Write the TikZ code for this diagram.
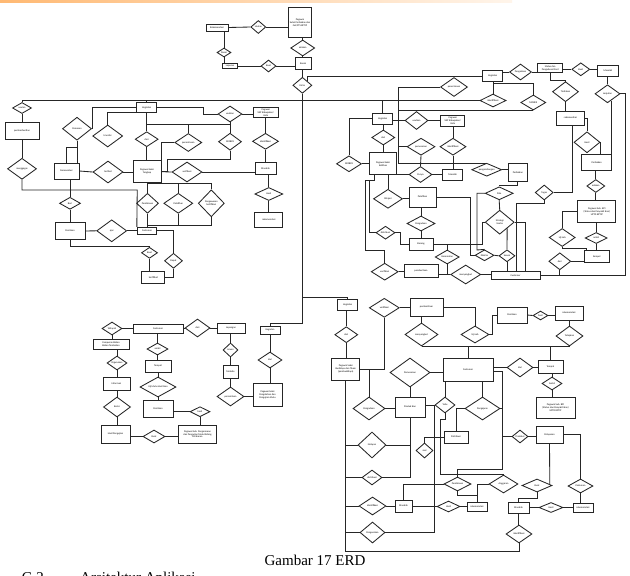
\documentclass[tikz,border=0pt]{standalone}
\usepackage{fontspec}
\newfontfamily\erdcarl{Carlito}
\newfontfamily\erdcap{Liberation Serif}
\usetikzlibrary{shapes.geometric,calc}
\newcommand\erdlbl{\erdcarl\fontsize{2.5}{2.9}\selectfont}
\tikzset{
  ent/.style={draw=black!85, fill=white, line width=0.85pt, rectangle, inner sep=0.3pt, align=center, font=\erdlbl},
  rel/.style={draw=black!85, fill=white, line width=0.85pt, diamond, aspect=2, inner sep=0pt, align=center, font=\erdlbl},
  conn/.style={draw=black!85, line width=0.85pt},
  captxt/.style={inner sep=0pt, font=\erdcap\fontsize{15}{18}\selectfont}
}
\newcommand\myent[5]{\node[ent,minimum width=#4pt,minimum height=#5pt] (#1) at (#2) {#3};}
\newcommand\myrel[5]{\node[rel,minimum width=#4pt,minimum height=#5pt] (#1) at (#2) {#3};}
\begin{document}
\begin{tikzpicture}[x=1pt,y=-1pt]
\useasboundingbox (0,0) rectangle (630,576);
\fill[white] (0,0) rectangle (630,576);
\shade[left color=orange!55, right color=orange!8] (0,0) rectangle (512,2.5);
% helper coordinates
\coordinate (h83) at (0,83);
\coordinate (h112) at (0,112);
\coordinate (h124) at (0,124);
\coordinate (h147) at (0,147);
\coordinate (h163) at (0,163.3);
\coordinate (h183) at (0,183);
\coordinate (h225) at (0,225);
\coordinate (h297) at (0,297);
\coordinate (h323) at (0,323);
\coordinate (h469) at (0,469);
\coordinate (h551) at (0,551);
\coordinate (v398) at (398,0);
\coordinate (v502) at (502,0);

% ---------------- nodes: top
\myent{pegTop}{300,22.3}{Pegawai\\Subsi Perbaikan dan\\Gel/PTS BPTIP}{23}{30}
\myent{rekomTop}{217,27.5}{Rekomendasi}{22}{7}
\myrel{usulanTop}{258.3,27}{Usulan}{15}{13}
\myrel{adakanTop}{302.7,48}{adakan}{24}{16}
\myrel{dasar}{224,52.5}{Dasar}{14}{9}
\myent{laporan}{230,66}{Laporan}{15}{5.5}
\myrel{buatTop}{268.5,66}{Buat}{15}{12}
\myent{rusak}{303,63.2}{Rusak}{16}{12}
\myrel{kirim}{302.4,85.3}{Kirim}{19}{16}

% ---------------- nodes: upper left
\myrel{usulL}{22,108}{usulan}{19}{11}
\myent{pemberhentian}{22,130.5}{pemberhentian}{34}{17}
\myrel{menggagas}{22,168.8}{menggagas}{29}{21}
\myent{kegA}{146.7,107.5}{Kegiatan}{20}{10.5}
\myrel{pemasok}{77,128.7}{Pemesan}{29}{23}
\myrel{transfer}{107.7,136}{transfer}{30}{22}
\myrel{diri}{146.7,139.2}{dari}{23}{15}
\myrel{penerimaan}{188.3,142.5}{penerimaan}{27}{18}
\myrel{usul1}{230,114}{usulkan}{24}{16}
\myent{skp1}{265.8,112.8}{Pegawai\\SKP Kabupaten/\\Kota}{25}{10}
\myrel{mobex1}{230,141.7}{MOBEX}{23}{17}
\myrel{ident1}{265.5,141.3}{identifikasi}{26}{16}
\myent{mas1}{265.5,168.5}{Masalah}{21}{12}
\myrel{hasil1}{268.8,194}{Hasil}{28}{13}
\myent{rekom1}{268.8,220}{rekomendasi}{28}{15}
\myent{narasumber}{66.5,171}{Narasumber}{25}{16}
\myrel{terlibat}{108,172}{terlibat}{30}{22}
\myent{tangkap}{147,171.7}{Pegawai Seksi\\Tangkap}{28}{22}
\myrel{verif1}{187,172}{verifikasi}{30}{20}
\myrel{beri}{70,203.3}{Beri}{21}{12}
\myent{penilaian1}{70,231}{Penilaian}{30}{17}
\myrel{ajar}{111.7,230.8}{ajar}{30}{22}
\myrel{pembinaan1}{147.5,203.3}{Pembinaan}{22}{20}
\myrel{pelatihan1}{178.3,203.3}{Pelatihan}{29}{20}
\myrel{pengawasan}{211.3,203.3}{Pengawasan\\Sertifikasi}{26}{27}
\myent{cust1}{147,230.7}{Customer}{19.5}{7}
\myrel{buatS}{149.5,252.8}{Buat}{16}{11}
\myent{sertifikat}{153.3,277.8}{Sertifikat}{23}{12}
\myrel{dapat}{173.5,260.8}{Dapat}{18}{15}

% ---------------- nodes: upper right
\myent{kegB}{382.7,118.7}{Kegiatan}{20}{11}
\myrel{usul2}{416.5,120.5}{usulkan}{23}{18}
\myent{skp2}{452.8,120.5}{Pegawai\\SKP Kabupaten/\\Kota}{24}{11}
\myrel{dariB}{383.3,137.5}{dari}{23}{15}
\myrel{mobex2}{349,163.8}{MOBEX}{25}{16}
\myent{kel}{383,163.7}{Pegawai Seksi\\Kelitbas}{27}{22}
\myrel{pemesanan}{421,146.7}{pemesanan}{28}{17}
\myrel{ident2}{453,146.7}{identifikasi}{26}{17}
\myrel{punya}{420.5,174.5}{Punya}{23}{16}
\myent{mas2}{452.7,174.7}{Masalah}{20}{11}
\myrel{pengemb}{486.7,169.7}{pengembangan}{30}{13}
\myent{perb2}{517.8,172.8}{Perbaikan}{19}{18}
\myrel{pelajari}{388,198.8}{Pelajari}{29}{19}
\myent{pelatihanB}{422.5,197}{Pelatihan}{27}{20}
\myrel{pengadaanB}{421,223.5}{Pengadaan}{28}{15}
\myent{barang}{421,244}{Barang}{24}{12}
\myrel{distribB}{385.5,232.7}{distribusi}{19}{13}
\myrel{verifB}{384.7,271.7}{verifikasi}{27}{17}
\myent{pemberitaanB}{421,270.5}{pemberitaan}{34}{13}
\myrel{kecamatan}{447.2,257}{Kecamatan}{24}{14}
\myrel{menyangkutB}{465.7,274.5}{menyangkut}{30}{19}
\myrel{pola}{499.2,193.3}{Pola}{28}{13}
\myrel{strategi}{499.7,222.2}{Strategi\\Usaha}{29}{24}
\myrel{dikirim}{484.5,255.3}{Dikirim}{19}{11}
\myrel{sesuai}{507,255.8}{Sesuai}{16}{12}
\myent{cust2}{515.5,275.2}{Customer}{49}{8}
\myrel{tugas}{544.2,192.5}{Tugas}{18}{15}

% ---------------- nodes: top right
\myent{kegT}{492.7,76.2}{Kegiatan}{20}{11}
\myrel{pengaduan}{520.5,72}{Pengaduan}{22}{16}
\myent{status}{550.2,68.3}{Status dan\\Pengaduan Riset}{25}{9}
\myrel{buat3}{580.8,69.3}{Buat}{18}{13}
\myent{mas3}{608,70.5}{Masalah}{21}{11}
\myrel{lanjut}{607.5,93.8}{Lanjutan}{25}{18}
\myrel{tindakan}{565.5,91.7}{Tindakan}{26}{20}
\myent{rekom3}{570.5,118}{rekomendasi}{28}{14}
\myrel{hasil3}{587,142.3}{Hasil}{26}{21}
\myrel{penerimaan2}{454,87}{penerimaan}{27}{19}
\myrel{ident3}{493,100.5}{identifikasi}{26}{13}
\myrel{mobex3}{533.3,102.5}{MOBEX}{25}{15}
\myent{perb3}{596.7,162.8}{Perbaikan}{30}{16}
\myrel{adakan3}{595.8,186}{adakan}{18}{13}
\myent{bpi1}{596.8,211.8}{Pegawai Sub. BPI\\(Status dan Penyakit Ikan)\\UPTD BPTIP}{38}{22}
\myrel{ujilab1}{562.2,237.5}{Uji Lab}{26}{18}
\myrel{ambil3}{596.2,238}{ambil}{22}{11}
\myent{sampel}{596.8,256.8}{Sampel}{25}{12}
\myrel{dari3}{559.8,261.3}{dari}{22}{17}

% ---------------- nodes: lower left
\myent{kegD}{270,330}{Kegiatan}{20}{8}
\myrel{dariD}{270,360}{dari}{24}{16}
\myent{pengolahan}{267.5,394.5}{Pegawai Seksi\\Pengolahan dan\\Pengujian Mutu}{29}{23}
\myent{lapangan}{231,328}{Lapangan}{28}{10}
\myrel{acuan}{230.5,350}{Acuan}{15}{14}
\myent{metode}{230.5,371.5}{Metode}{15}{13}
\myrel{permintaan}{230.5,396.5}{permintaan}{27}{19}
\myent{cust4}{158,328.5}{Customer}{50}{9}
\myrel{dari4}{197.5,328}{dari}{25}{18}
\myrel{wilayah}{112,328.5}{Wilayah}{20}{13}
\myent{cbb}{111,344}{Campuran Bahan\\Bahan Tambahan}{36}{10}
\myrel{digunakan}{117,363}{Digunakan}{20}{14}
\myent{informasi}{116.5,383.5}{Informasi}{27}{13}
\myrel{berisi}{117,407}{Berisi}{27}{20}
\myent{hasilpeng}{115.5,434.2}{Hasil Pengujian}{29}{18}
\myrel{buatH}{154,436.5}{Buat}{22}{13}
\myent{pengemasan}{197.5,434.2}{Pegawai Sub. Pengemasan\\dan Pengujian Mutu Bidang\\Perikanan}{38.4}{18.3}
\myrel{ambil4}{157.5,349}{ambil}{21}{12}
\myent{tempat4}{158,366}{Tempat}{26}{12}
\myrel{ujimutu}{158,387}{Uji Mutu Hasil Ikan}{36}{20}
\myent{penilaian4}{158,408.5}{Penilaian}{30}{17}
\myrel{hasil4}{200,411.7}{hasil}{20}{10}

% ---------------- nodes: lower right
\myent{kegC}{347.7,305}{Kegiatan}{20}{11}
\myrel{dariC}{346.3,334.7}{dari}{23}{16}
\myent{budidaya}{345.8,369.2}{Pegawai Seksi\\Budidaya dan Tikam\\(pembudidaya)}{28}{22}
\myrel{verifC}{384.3,307.8}{verifikasi}{30}{19}
\myent{pemberitaanC}{426.5,307}{pemberitaan}{33}{18}
\myrel{menyC}{421.5,334.5}{menyangkut}{33}{23}
\myrel{ujilabC}{475,334.5}{Uji Lab}{28}{17}
\myent{penC}{512,315}{Penilaian}{30}{16}
\myrel{hasilC}{540.5,315.5}{hasil}{15}{9}
\myent{rekomC}{569,313}{rekomendasi}{28}{14}
\myrel{tetapkan}{569.5,336}{Tetapkan}{27}{20}
\myent{cust3}{468,369.5}{Customer}{50}{23}
\myrel{dariC2}{520,367.5}{dari}{26}{19}
\myent{tempatC}{550.5,366.5}{Tempat}{25}{13}
\myrel{ambilC}{552,383.5}{Ambil}{20}{13}
\myent{bpi2}{555.5,407.5}{Pegawai Sub. BPI\\(Status dan Penyakit Ikan)\\UPTD BPTIP}{39}{21}
\myrel{pemesananC}{410,372.5}{Pemesanan}{40}{29}
\myent{produk}{410,407}{Produk Ikan}{30}{20}
\myrel{pengadaanC}{369,408.5}{Pengadaan}{32}{23}
\myrel{yaitu}{445,405}{Yaitu}{20}{16}
\myrel{pengajuan}{482.5,408.5}{Pengajuan}{35}{23}
\myent{distribusiBox}{456,437}{Distribusi}{24}{12}
\myrel{jual}{424.5,450.5}{Jual}{17}{15}
\myent{pelayanan}{549.5,434.5}{Pelayanan}{27}{17}
\myrel{produksi}{520,436.5}{Produksi}{16}{13}
\myrel{pedoman}{580.5,486}{Pedoman}{25}{14}
\myent{rekomE}{583,507.5}{rekomendasi}{20}{9}
\myrel{buatE}{537,485.5}{Buat}{30}{13}
\myent{masE}{518.5,507.5}{Masalah}{21}{11}
\myrel{hasilE}{551,507.5}{Hasil}{24}{10}
\myrel{identE}{519,534}{identifikasi}{26}{18}
\myrel{pembE}{457.5,484}{Pembinaan}{27}{14}
\myrel{anggaran}{503.5,484}{Anggaran}{29}{18}
\myent{rekomD}{477,506.5}{rekomendasi}{20}{9}
\myrel{hasilD}{448.5,506.5}{Hasil}{23}{11}
\myent{masD}{403.5,506}{Masalah}{17}{12}
\myrel{nelayan}{372,445}{Nelayan}{28}{26}
\myrel{distribD}{372,477.5}{distribusi}{20}{15}
\myrel{identD}{372.5,506}{identifikasi}{27}{18}
\myrel{pengecekan}{372.5,532.5}{Pengecekan}{25}{21}

% ---------------- captions
\node[captxt] (caption) at (315,560) {Gambar 17 ERD};
\node[captxt, anchor=base west] (gtwo) at (21.7,582) {G.2};
\node[captxt, anchor=base west] (arsitektur) at (80,582) {Arsitektur Aplikasi};

% ================= connectors
% top
\draw[conn] (rekomTop.east) -- (usulanTop.west);
\draw[conn] (usulanTop.east) -- (usulanTop.east -| pegTop.west);
\draw[conn] (adakanTop.north |- pegTop.south) -- (adakanTop.north);
\draw[conn] (adakanTop.south) -- (adakanTop.south |- rusak.north);
\draw[conn] (kirim.north |- rusak.south) -- (kirim.north);
\draw[conn] (dasar.north |- rekomTop.south) -- (dasar.north);
\draw[conn] (dasar.south) -- (dasar.south |- laporan.north);
\draw[conn] (laporan.east) -- (buatTop.west);
\draw[conn] (buatTop.east) -- (buatTop.east -| rusak.west);
\draw[conn] (kirim.north east) |- (kegT.west);
\draw[conn] (kirim.south) -- (kirim.south |- h323) -| (kegD.north);
\draw[conn] (kirim.south |- h297) -| (kegC.north);
% long line
\draw[conn] (usulL.north) |- (ident3.west);
\draw[conn] (kegA.north) -- (kegA.north |- ident3.west);
\draw[conn] (kegB.north) -- (kegB.north |- ident3.west);
% upper left
\draw[conn] (kegA.west) -| (pemasok.east);
\draw[conn] (kegA.west |- h112) -| (transfer.north);
\draw[conn] (kegA.east) -- ++(46.3,0) |- (usul1.west);
\draw[conn] (kegA.south) -- (diri.north);
\draw[conn] (kegA.south |- h124) -- (usul1.south |- h124);
\draw[conn] (penerimaan.north |- h124) -- (penerimaan.north);
\draw[conn] (usul1.south) -- (mobex1.north);
\draw[conn] (usul1.east) -- (usul1.east -| skp1.west);
\draw[conn] (ident1.north |- skp1.south) -- (ident1.north);
\draw[conn] (ident1.south) -- (ident1.south |- mas1.north);
\draw[conn] (hasil1.north |- mas1.south) -- (hasil1.north);
\draw[conn] (hasil1.south) -- (hasil1.south |- rekom1.north);
\draw[conn] (mobex1.south) |- (167,159.5) |- (tangkap.east);
\draw[conn] (tangkap.east) -- (verif1.west);
\draw[conn] (verif1.east) -- (verif1.east -| mas1.west);
\draw[conn] (diri.south) -- (diri.south |- tangkap.north);
\draw[conn] (penerimaan.west) -| (tangkap.north east);
\draw[conn] (pemasok.south) -- (pemasok.south |- narasumber.north);
\draw[conn] (pemasok.south |- h147) -| (narasumber.north);
\draw[conn] (narasumber.east) -- (terlibat.west);
\draw[conn] (terlibat.east) -- (terlibat.east -| tangkap.west);
\draw[conn] (beri.north |- narasumber.south) -- (beri.north);
\draw[conn] (beri.south) -- (beri.south |- penilaian1.north);
\draw[conn] (penilaian1.east) -- (ajar.west);
\draw[conn] (ajar.east) -- (ajar.east -| cust1.west);
\draw[conn] (usulL.south) -- (usulL.south |- pemberhentian.north);
\draw[conn] (pemberhentian.south) -- (menggagas.north);
\draw[conn] (menggagas.south) |- (137.25,190) -- (cust1.north west);
\draw[conn] (pembinaan1.north |- tangkap.south) -- (pembinaan1.north);
\draw[conn] (pembinaan1.north |- h183) -- (pengawasan.north |- h183) -- (pengawasan.north);
\draw[conn] (pelatihan1.north |- h183) -- (pelatihan1.north);
\draw[conn] (pembinaan1.south) -- (pembinaan1.south |- cust1.north);
\draw[conn] (pembinaan1.south |- h225) -- (pengawasan.south |- h225) -- (pengawasan.south);
\draw[conn] (pelatihan1.south) -- (pelatihan1.south |- h225);
\draw[conn] (penilaian1.south) -- ++(0,6.5) -| (buatS.north);
\draw[conn] (buatS.south) -- (buatS.south |- sertifikat.north);
\draw[conn] (cust1.east) -| (dapat.north);
\draw[conn] (dapat.south) |- (sertifikat.east);
% upper right
\draw[conn] (usul2.west -| kegB.east) -- (usul2.west);
\draw[conn] (usul2.east) -- (usul2.east -| skp2.west);
\draw[conn] (ident2.north |- skp2.south) -- (ident2.north);
\draw[conn] (ident2.south) -- (ident2.south |- mas2.north);
\draw[conn] (dariB.north |- kegB.south) -- (dariB.north);
\draw[conn] (dariB.south) -- (dariB.south |- kel.north);
\draw[conn] (kegB.west) -| (mobex2.north);
\draw[conn] (mobex2.east) -- (mobex2.east -| kel.west);
\draw[conn] (penerimaan2.west) -| (v398 |- h163) -| (pengemb.north);
\draw[conn] (mobex3.south) -- (mobex3.south -| v398);
\draw[conn] (pemesanan.west) -- (pemesanan.west -| v398);
\draw[conn] (pemesanan.south) -- (punya.north);
\draw[conn] (punya.west -| kel.east) -- (punya.west);
\draw[conn] (punya.east) -- (punya.east -| mas2.west);
\draw[conn] (pengemb.east) -- (pengemb.east -| perb2.west);
\draw[conn] (pelajari.north |- kel.south) -- (pelajari.north);
\draw[conn] (pelajari.east) -- (pelajari.east -| pelatihanB.west);
\draw[conn] ($(kel.south west)+(5,0)$) |- (365,180) -- (365,250) -| (verifB.north);
\draw[conn] (369,180) |- (distribB.west);
\draw[conn] (distribB.east) -- ++(4.5,0) |- (barang.west);
\draw[conn] (pengadaanB.north |- pelatihanB.south) -- (pengadaanB.north);
\draw[conn] (pengadaanB.south) -- (pengadaanB.south |- barang.north);
\draw[conn] (verifB.east) -- (verifB.east -| pemberitaanB.west);
\draw[conn] (pemberitaanB.east |- menyangkutB.west) -- (menyangkutB.west);
\draw[conn] (menyangkutB.east) -- (menyangkutB.east -| cust2.west);
\draw[conn] (kecamatan.south) -- (kecamatan.south |- menyangkutB.west);
\draw[conn] (barang.east) -| (kecamatan.north);
\draw[conn] (kecamatan.north |- barang.east) -- (482,244) |- (strategi.west);
\draw[conn] (pelatihanB.east) -- ++(33.5,0) |- (dikirim.west);
\draw[conn] (pola.west) -| (477,250) -- (dikirim.north);
\draw[conn] (perb2.south) -- ++(0,3) -| (pola.north);
\draw[conn] (pola.south) -- (strategi.north);
\draw[conn] ($(strategi.south)!0.5!(strategi.east)$) -- (sesuai.north);
\draw[conn] (dikirim.east) -- (sesuai.west);
\draw[conn] (sesuai.south) -- (sesuai.south |- cust2.north);
\draw[conn] (strategi.east) -| ($(cust2.north)+(9.5,0)$);
\draw[conn] (tugas.south) -- ++(0,3) -| ($(cust2.north)+(0.5,0)$);
\draw[conn] ($(rekom3.south)+(1.5,0)$) |- (tugas.east);
% top right
\draw[conn] (pengaduan.west -| kegT.east) -- (pengaduan.west);
\draw[conn] (pengaduan.east) -- (pengaduan.east -| status.west);
\draw[conn] (buat3.west -| status.east) -- (buat3.west);
\draw[conn] (buat3.east) -- (buat3.east -| mas3.west);
\draw[conn] (lanjut.north |- mas3.south) -- (lanjut.north);
\draw[conn] (status.south) -- ++(0,7.5) -| (tindakan.north);
\draw[conn] (tindakan.south) -- (tindakan.south |- rekom3.north);
\draw[conn] (rekom3.east) -| (hasil3.north);
\draw[conn] (hasil3.east) -| ($(perb3.north)+(3.3,0)$);
\draw[conn] (lanjut.east) -- ++(5,0) |- (cust2.east);
\draw[conn] ($(lanjut.south)!0.28!(lanjut.east)$) coordinate (lse) -- (lse |- perb3.north);
\draw[conn] (adakan3.north |- perb3.south) -- (adakan3.north);
\draw[conn] (adakan3.south) -- (adakan3.south |- bpi1.north);
\draw[conn] (ambil3.north |- bpi1.south) -- (ambil3.north);
\draw[conn] (ambil3.south) -- (ambil3.south |- sampel.north);
\draw[conn] (bpi1.west) -| (ujilab1.north);
\draw[conn] (ujilab1.south) -- ++(0,1.5) -| ($(sampel.north west)+(3,0)$);
\draw[conn] (dari3.east) -- (dari3.east -| sampel.west);
\draw[conn] (dari3.south) |- (cust2.east);
\draw[conn] (ident3.north |- kegT.south) -- (ident3.north);
\draw[conn] (ident3.north |- h83) -| (mobex3.north);
% lower left
\draw[conn] (dari4.west -| cust4.east) -- (dari4.west);
\draw[conn] (dari4.east) -- (dari4.east -| lapangan.west);
\draw[conn] (acuan.north |- lapangan.south) -- (acuan.north);
\draw[conn] (acuan.south) -- (acuan.south |- metode.north);
\draw[conn] (metode.south) -- (permintaan.north);
\draw[conn] (permintaan.east) -- (permintaan.east -| pengolahan.west);
\draw[conn] (dariD.north |- kegD.south) -- (dariD.north);
\draw[conn] (dariD.south) -- (dariD.south |- pengolahan.north);
\draw[conn] (wilayah.east) -- (wilayah.east -| cust4.west);
\draw[conn] (wilayah.south) -- (wilayah.south |- cbb.north);
\draw[conn] (digunakan.north |- cbb.south) -- (digunakan.north);
\draw[conn] (digunakan.south) -- (digunakan.south |- informasi.north);
\draw[conn] (berisi.north |- informasi.south) -- (berisi.north);
\draw[conn] (berisi.south) -- (berisi.south |- hasilpeng.north);
\draw[conn] (buatH.west -| hasilpeng.east) -- (buatH.west);
\draw[conn] (buatH.east) -- (buatH.east -| pengemasan.west);
\draw[conn] (ambil4.north |- cust4.south) -- (ambil4.north);
\draw[conn] (ambil4.south) -- (ambil4.south |- tempat4.north);
\draw[conn] (ujimutu.north |- tempat4.south) -- (ujimutu.north);
\draw[conn] (ujimutu.south) -- (ujimutu.south |- penilaian4.north);
\draw[conn] (hasil4.west -| penilaian4.east) -- (hasil4.west);
\draw[conn] (hasil4.south) -- (hasil4.south |- pengemasan.north);
% lower right
\draw[conn] (dariC.north |- kegC.south) -- (dariC.north);
\draw[conn] (dariC.south) -- (dariC.south |- budidaya.north);
\draw[conn] (verifC.east) -- (verifC.east -| pemberitaanC.west);
\draw[conn] (verifC.south) |- (budidaya.east);
\draw[conn] (pengadaanC.north |- budidaya.east) -- (pengadaanC.north);
\draw[conn] (pengadaanC.east) -- (pengadaanC.east -| produk.west);
\draw[conn] (pemberitaanC.east) -| (ujilabC.north);
\draw[conn] (ujilabC.east) -- ++(3,0) |- (penC.west);
\draw[conn] (penC.east) -- (hasilC.west);
\draw[conn] (hasilC.east) -- (hasilC.east -| rekomC.west);
\draw[conn] (tetapkan.north |- rekomC.south) -- (tetapkan.north);
\draw[conn] (menyC.north |- pemberitaanC.south) -- (menyC.north);
\draw[conn] (menyC.south) -- (tetapkan.south);
\draw[conn] (cust3.north |- menyC.south) -- (cust3.north);
\draw[conn] (tempatC.north |- menyC.south) -- (tempatC.north);
\draw[conn] (pemesananC.east) -- (pemesananC.east -| cust3.west);
\draw[conn] (pemesananC.south) -- (pemesananC.south |- produk.north);
\draw[conn] (dariC2.west -| cust3.east) -- (dariC2.west);
\draw[conn] (dariC2.east) -- (dariC2.east -| tempatC.west);
\draw[conn] (ambilC.north |- tempatC.south) -- (ambilC.north);
\draw[conn] (ambilC.south) -- (ambilC.south |- bpi2.north);
\draw[conn] ($(cust3.east)+(0,2)$) -| (v502 |- h469) -| (pembE.north);
\draw[conn] (pengajuan.east) -- (pengajuan.east -| v502);
\draw[conn] (produksi.west -| v502) -- (produksi.west);
\draw[conn] (produksi.east) -- (produksi.east -| pelayanan.west);
\draw[conn] (yaitu.north |- cust3.south) -- (yaitu.north);
\draw[conn] (pengajuan.north |- cust3.south) -- (pengajuan.north);
\draw[conn] (yaitu.west) -- (yaitu.west -| produk.east);
\draw[conn] (pengajuan.west) -| (distribusiBox.north);
\draw[conn] (distribusiBox.west) -| (jual.north);
\draw[conn] (yaitu.south) -- ++(0,6) -| (440,474) -| (anggaran.north);
\draw[conn] (pengecekan.east) -| (yaitu.west);
\draw[conn] (budidaya.south) -- (budidaya.south |- h551) -| (identE.south);
\draw[conn] (budidaya.south |- nelayan.west) -- (nelayan.west);
\draw[conn] (budidaya.south |- distribD.west) -- (distribD.west);
\draw[conn] (budidaya.south |- identD.west) -- (identD.west);
\draw[conn] (budidaya.south |- pengecekan.west) -- (pengecekan.west);
\draw[conn] (produk.south) -- (produk.south |- distribD.east);
\draw[conn] (nelayan.east) -- (nelayan.east -| produk.south);
\draw[conn] (distribD.east) -- (distribD.east -| produk.south);
\draw[conn] (identD.east) -- (identD.east -| masD.west);
\draw[conn] (hasilD.west -| masD.east) -- (hasilD.west);
\draw[conn] (hasilD.east) -- (hasilD.east -| rekomD.west);
\draw[conn] (masD.north) |- (pembE.west);
\draw[conn] (pembE.south) -- ++(0,4) -| (rekomD.north);
\draw[conn] (anggaran.west) -| (rekomD.north);
\draw[conn] (pelayanan.east) -| (pedoman.north);
\draw[conn] (pedoman.south) -- (pedoman.south |- rekomE.north);
\draw[conn] (pelayanan.south) -- ($(buatE.north)!0.83!(buatE.east)$);
\draw[conn] (buatE.south) -- ++(0,6) -| (masE.north);
\draw[conn] (masE.east) -- (hasilE.west);
\draw[conn] (hasilE.east) -- (hasilE.east -| rekomE.west);
\draw[conn] (masE.south) -- (masE.south |- identE.north);
\end{tikzpicture}
\end{document}
